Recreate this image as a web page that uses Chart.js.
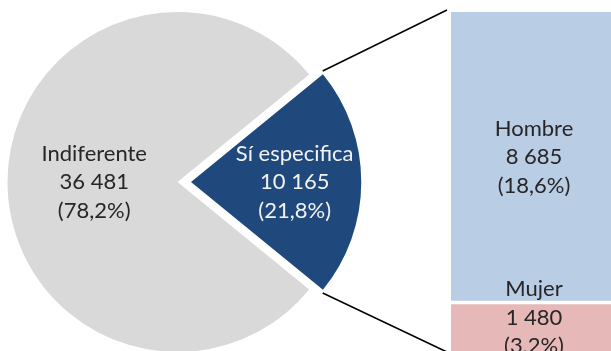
<!DOCTYPE html>
<html>
<head>
<meta charset="utf-8">
<script src="https://cdn.jsdelivr.net/npm/chart.js@4/dist/chart.umd.min.js"></script>
<style>
  html, body { margin: 0; padding: 0; background: #fff; width: 611px; height: 351px; overflow: hidden; }
  body { position: relative; }
  canvas { position: absolute; top: 0; }
  #pie { left: 0; }
  #bar { left: 451px; }
</style>
</head>
<body>
<canvas id="pie" width="611" height="364"></canvas>
<canvas id="bar" width="166" height="352"></canvas>
<script>
// Preference split (pie) and breakdown of "Sí especifica" by sex (stacked bar)
const pieLabels = ['Sí especifica', 'Indiferente'];
const pieValues = [10165, 36481];
const sexLabels = ['Mujer', 'Hombre'];
const sexValues = [1480, 8685];

const pieColors = ['#1f497d', '#d9d9d9'];
const pieTextColors = ['#f2f2f2', '#262626'];
const sexColors = ['#e6b9b8', '#b9cde5'];

const FONT = '22px Lato, "Open Sans", sans-serif';
const LINE_H = 28.5;

const grandTotal = pieValues.reduce((a, b) => a + b, 0);
const sexTotal = sexValues.reduce((a, b) => a + b, 0);

function fmtNum(v) {
  return String(v).replace(/\B(?=(\d{3})+(?!\d))/g, ' ');
}
function fmtPct(v) {
  return '(' + (v / grandTotal * 100).toFixed(1).replace('.', ',') + '%)';
}
function drawLines(ctx, lines, x, yMid, color) {
  ctx.save();
  ctx.font = FONT;
  ctx.fillStyle = color;
  ctx.textAlign = 'center';
  ctx.textBaseline = 'middle';
  lines.forEach((t, i) => ctx.fillText(t, x, yMid + (i - 1) * LINE_H));
  ctx.restore();
}

// ---- stacked bar: Mujer / Hombre ----
const barLabelPlugin = {
  id: 'barLabels',
  afterDatasetsDraw(chart) {
    chart.data.datasets.forEach((ds, i) => {
      const el = chart.getDatasetMeta(i).data[0];
      const top = Math.min(el.y, el.base);
      const bottom = Math.max(el.y, el.base);
      const lines = [sexLabels[i], fmtNum(sexValues[i]), fmtPct(sexValues[i])];
      // tall segment: centred; short segment: block straddles its top edge
      const yMid = (bottom - top) > 3 * LINE_H ? (top + bottom) / 2 : top + 15;
      drawLines(chart.ctx, lines, el.x, yMid, '#262626');
    });
  }
};

const barChart = new Chart(document.getElementById('bar'), {
  type: 'bar',
  data: {
    labels: [''],
    datasets: sexLabels.map((lab, i) => ({
      label: lab,
      data: [sexValues[i]],
      backgroundColor: sexColors[i],
      borderColor: '#ffffff',
      borderWidth: i === 0 ? { top: 2 } : { bottom: 2 },
      borderSkipped: false,
      categoryPercentage: 1,
      barPercentage: 1
    }))
  },
  options: {
    responsive: false,
    devicePixelRatio: 1,
    animation: false,
    layout: { padding: { top: 12 } },
    scales: {
      x: { display: false, stacked: true },
      y: { display: false, stacked: true, min: 0, max: sexTotal }
    },
    plugins: { legend: { display: false }, tooltip: { enabled: false } }
  },
  plugins: [barLabelPlugin]
});

// ---- pie with the "Sí especifica" slice pulled out ----
const blueSpan = pieValues[0] / grandTotal * 360;
const labelRadius = [0.61, 0.49];

// Chart.js moves an arc by offset / 4 along its mid-angle
function arcApex(arc) {
  const mid = (arc.startAngle + arc.endAngle) / 2;
  const shift = (arc.options.offset || 0) / 4;
  return { x: arc.x + Math.cos(mid) * shift, y: arc.y + Math.sin(mid) * shift, mid };
}

const pieExtras = {
  id: 'pieExtras',
  afterDatasetsDraw(chart) {
    const ctx = chart.ctx;
    const arcs = chart.getDatasetMeta(0).data;
    arcs.forEach((arc, i) => {
      const c = arcApex(arc);
      const r = arc.outerRadius * labelRadius[i];
      const lines = [pieLabels[i], fmtNum(pieValues[i]), fmtPct(pieValues[i])];
      drawLines(ctx, lines, c.x + Math.cos(c.mid) * r, c.y + Math.sin(c.mid) * r, pieTextColors[i]);
    });

    // connector lines from the pulled-out slice to the bar
    const a = arcs[0];
    const c = arcApex(a);
    const R = a.outerRadius;
    const p1 = { x: c.x + Math.cos(a.startAngle) * R, y: c.y + Math.sin(a.startAngle) * R - 3.5 };
    const p2 = { x: c.x + Math.cos(a.endAngle) * R, y: c.y + Math.sin(a.endAngle) * R + 3.5 };

    const barLeftPage = 451;
    const top = barChart.getDatasetMeta(1).data[0];
    const bot = barChart.getDatasetMeta(0).data[0];
    const bx = barLeftPage + top.x - top.width / 2 - 4;
    const byTop = top.y - 2;
    const byBot = bot.base;

    ctx.save();
    ctx.strokeStyle = '#000';
    ctx.lineWidth = 1.5;
    ctx.beginPath();
    ctx.moveTo(p1.x, p1.y); ctx.lineTo(bx, byTop);
    ctx.moveTo(p2.x, p2.y); ctx.lineTo(bx, byBot);
    ctx.stroke();
    ctx.restore();
  }
};

new Chart(document.getElementById('pie'), {
  type: 'pie',
  data: {
    labels: pieLabels,
    datasets: [{
      data: pieValues,
      backgroundColor: pieColors,
      borderWidth: 0,
      offset: [54, 0],
      hoverOffset: 0,
      radius: 170
    }]
  },
  options: {
    responsive: false,
    devicePixelRatio: 1,
    animation: false,
    rotation: 90 - blueSpan / 2,
    layout: { padding: { right: 256 } },
    plugins: { legend: { display: false }, tooltip: { enabled: false } }
  },
  plugins: [pieExtras]
});
</script>
</body>
</html>
